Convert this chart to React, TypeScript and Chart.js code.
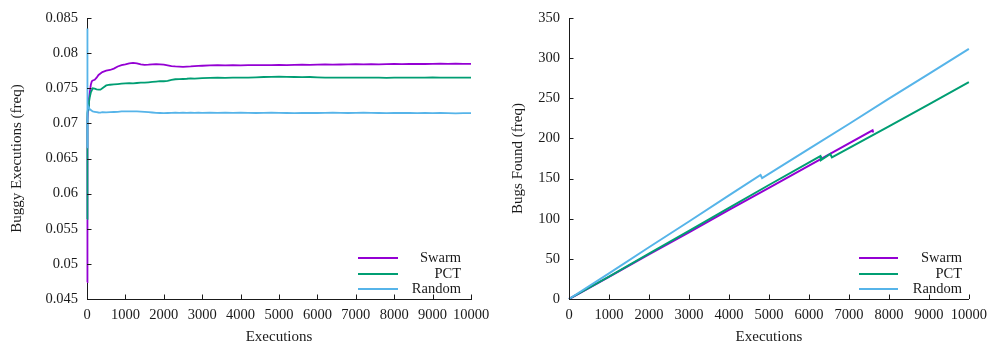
import React, { useEffect, useRef } from "react";
import { Chart, registerables } from "chart.js";

Chart.register(...registerables);

// ---------- shared ----------
const seriesNames = ["Swarm", "PCT", "Random"];
const seriesColors = ["#9400d3", "#009e73", "#56b4e9"];
const xTickValues = [0, 1000, 2000, 3000, 4000, 5000, 6000, 7000, 8000, 9000, 10000];

// ---------- left chart: Buggy Executions (freq) ----------
const execX = [
  0, 5, 10, 20, 30, 50, 75, 100, 125, 150, 200, 250, 300, 350, 400, 500, 600, 700, 800, 900,
  1000, 1100, 1200, 1300, 1400, 1500, 1600, 1700, 1800, 1900, 2000, 2100, 2200, 2300, 2400,
  2500, 2600, 2700, 2800, 2900, 3000, 3200, 3400, 3600, 3800, 4000, 4200, 4400, 4600, 4800,
  5000, 5200, 5400, 5600, 5800, 6000, 6200, 6400, 6600, 6800, 7000, 7200, 7400, 7600, 7800,
  8000, 8200, 8400, 8600, 8800, 9000, 9200, 9400, 9600, 9800, 10000,
];
const swarmFreq = [
  0.0474, 0.0566, 0.065, 0.0705, 0.0725, 0.0735, 0.0745, 0.0755, 0.076, 0.0761, 0.0762, 0.0765,
  0.0769, 0.0771, 0.0773, 0.0775, 0.0776, 0.0778, 0.0781, 0.0783, 0.0784, 0.07855, 0.07862,
  0.07855, 0.0784, 0.07832, 0.07835, 0.0784, 0.07842, 0.0784, 0.07835, 0.07825, 0.07815,
  0.0781, 0.07808, 0.07805, 0.07808, 0.0781, 0.07815, 0.07818, 0.0782,
  0.07825, 0.07828, 0.07825, 0.07828, 0.07826, 0.07828, 0.0783, 0.07828, 0.0783, 0.07832,
  0.0783, 0.07832, 0.07835, 0.07832, 0.07835, 0.07838, 0.07835, 0.07838, 0.0784, 0.07842,
  0.0784, 0.07842, 0.0784, 0.07842, 0.07845, 0.07842, 0.07845, 0.07848, 0.07845, 0.07848,
  0.0785, 0.07848, 0.0785, 0.07848, 0.07848,
];
const pctFreq = [
  0.0564, 0.0665, 0.07, 0.0715, 0.0722, 0.073, 0.0738, 0.0744, 0.0747, 0.075, 0.07495, 0.07485,
  0.0748, 0.0748, 0.075, 0.0754, 0.0755, 0.07555, 0.0756, 0.07565, 0.0757, 0.07572, 0.0757,
  0.07575, 0.0758, 0.0758, 0.07585, 0.0759, 0.07595, 0.076, 0.076, 0.07605, 0.0762, 0.07628,
  0.0763, 0.07632, 0.07635, 0.0764, 0.07638, 0.07642, 0.07645,
  0.07648, 0.0765, 0.07648, 0.0765, 0.07652, 0.0765, 0.07655, 0.0766, 0.07662, 0.07665,
  0.07662, 0.0766, 0.07658, 0.0766, 0.07655, 0.07652, 0.0765, 0.07652, 0.0765, 0.07652,
  0.0765, 0.07652, 0.0765, 0.07648, 0.0765, 0.07652, 0.0765, 0.07652, 0.0765, 0.07655,
  0.07652, 0.0765, 0.07652, 0.0765, 0.0765,
];
const randomFreq = [
  0.0666, 0.0835, 0.0752, 0.0728, 0.0724, 0.0722, 0.072, 0.0719, 0.0718, 0.0717, 0.07165,
  0.0716, 0.07155, 0.07153, 0.0716, 0.07158, 0.0716, 0.07162, 0.07165, 0.0717, 0.07172,
  0.0717, 0.07172, 0.0717, 0.07168, 0.07165, 0.0716, 0.07155, 0.0715, 0.07148, 0.07145,
  0.07148, 0.0715, 0.07152, 0.0715, 0.07152, 0.0715, 0.07152, 0.0715, 0.07152, 0.0715,
  0.07152, 0.0715, 0.07153, 0.0715, 0.07152, 0.0715, 0.07148, 0.0715, 0.07152, 0.0715,
  0.07148, 0.07145, 0.07148, 0.0715, 0.07148, 0.0715, 0.07152, 0.0715, 0.07148, 0.0715,
  0.07152, 0.0715, 0.07148, 0.07145, 0.07148, 0.0715, 0.07148, 0.07145, 0.07148, 0.07145,
  0.07148, 0.07145, 0.07143, 0.07145, 0.07145,
];

// ---------- right chart: Bugs Found (freq) ----------
const swarmFoundX = [0, 1000, 2000, 3000, 4000, 5000, 6250, 6550, 7590, 7600];
const swarmFound = [0, 27.5, 55.5, 83, 111, 138.5, 173, 181.5, 210, 207.5];
const pctFoundX = [0, 1000, 2000, 3000, 4000, 5000, 6286, 6300, 6535, 6575, 7000, 8000, 9000, 10000];
const pctFound = [0, 28, 56.5, 85, 113.5, 142, 178, 173, 180.6, 176.4, 188, 215, 242.5, 270];
const randomFoundX = [0, 1000, 2000, 3000, 4000, 4790, 4830, 6000, 7000, 8000, 9000, 10000];
const randomFound = [0, 32, 64.5, 96.5, 129, 154.5, 150.5, 187, 218, 249.5, 280.5, 311.5];

const FONT = "'Liberation Serif', 'Times New Roman', serif";
const INK = "#1a1a1a";

function pairs(xs: number[], ys: number[]) {
  return xs.map((x, i) => ({ x, y: ys[i] }));
}

type PanelSpec = {
  datasets: { label: string; data: { x: number; y: number }[]; color: string; order: number }[];
  yMin: number;
  yMax: number;
  yStep: number;
  yTitle: string;
  yAxisWidth: number;
  yTitlePad: number;
  padRight: number;
  lineWidth: number;
  legend: { lineX1: number; lineX2: number; textX: number; ys: number[] };
  fmt: (v: number) => string;
};

const tickAndLegendPlugin = {
  id: "gnuTicksLegend",
  afterDraw(chart: any) {
    const ctx = chart.ctx;
    const spec: PanelSpec = chart.options.plugins.gnuTicksLegend.spec;
    const xs = chart.scales.x;
    const ys = chart.scales.y;
    const area = chart.chartArea;
    ctx.save();
    ctx.strokeStyle = INK;
    ctx.lineWidth = 1;
    const tl = 4.5;
    ctx.beginPath();
    xs.ticks.forEach((t: any) => {
      const px = Math.round(xs.getPixelForValue(t.value)) + 0.5;
      ctx.moveTo(px, area.bottom);
      ctx.lineTo(px, area.bottom - tl);
    });
    ys.ticks.forEach((t: any) => {
      const py = Math.round(ys.getPixelForValue(t.value)) + 0.5;
      ctx.moveTo(area.left, py);
      ctx.lineTo(area.left + tl, py);
    });
    ctx.stroke();

    // legend (gnuplot style: sample line then right-aligned label)
    const lg = spec.legend;
    ctx.font = `14.5px ${FONT}`;
    ctx.textAlign = "right";
    ctx.textBaseline = "middle";
    seriesNames.forEach((name, i) => {
      const y = lg.ys[i];
      ctx.strokeStyle = seriesColors[i];
      ctx.lineWidth = 1.8;
      ctx.beginPath();
      ctx.moveTo(lg.lineX1, y);
      ctx.lineTo(lg.lineX2, y);
      ctx.stroke();
      ctx.fillStyle = INK;
      ctx.fillText(name, lg.textX, y + 0.5);
    });
    ctx.restore();
  },
};

function buildConfig(spec: PanelSpec): any {
  return {
    type: "line",
    data: {
      datasets: spec.datasets.map((d) => ({
        label: d.label,
        data: d.data,
        borderColor: d.color,
        backgroundColor: d.color,
        borderWidth: spec.lineWidth,
        pointRadius: 0,
        tension: 0,
        fill: false,
        clip: false,
        order: d.order,
      })),
    },
    options: {
      animation: false,
      responsive: false,
      maintainAspectRatio: false,
      devicePixelRatio: 1,
      layout: { padding: { top: 18, right: spec.padRight, bottom: 0, left: 0 } },
      plugins: {
        legend: { display: false },
        tooltip: { enabled: false },
        gnuTicksLegend: { spec },
      },
      scales: {
        x: {
          type: "linear",
          min: 0,
          max: 10000,
          afterFit: (s: any) => {
            s.height = 48;
          },
          afterBuildTicks: (s: any) => {
            s.ticks = xTickValues.map((v) => ({ value: v }));
          },
          grid: { display: false, drawTicks: false },
          border: { display: true, color: INK, width: 1 },
          ticks: {
            autoSkip: false,
            maxRotation: 0,
            padding: 7,
            color: INK,
            font: { family: FONT, size: 14.5 },
            callback: (v: any) => String(v),
          },
          title: {
            display: true,
            text: "Executions",
            color: INK,
            font: { family: FONT, size: 15 },
            padding: { top: 0, bottom: 1 },
          },
        },
        y: {
          type: "linear",
          min: spec.yMin,
          max: spec.yMax,
          afterFit: (s: any) => {
            s.width = spec.yAxisWidth;
          },
          grid: { display: false, drawTicks: false },
          border: { display: true, color: INK, width: 1 },
          ticks: {
            stepSize: spec.yStep,
            padding: 9,
            color: INK,
            font: { family: FONT, size: 14.5 },
            callback: (v: any) => spec.fmt(Number(v)),
          },
          title: {
            display: true,
            text: spec.yTitle,
            color: INK,
            font: { family: FONT, size: 15 },
            padding: { top: spec.yTitlePad, bottom: 0 },
          },
        },
      },
    },
    plugins: [tickAndLegendPlugin],
  };
}

const leftSpec: PanelSpec = {
  datasets: [
    { label: seriesNames[0], data: pairs(execX, swarmFreq), color: seriesColors[0], order: 3 },
    { label: seriesNames[1], data: pairs(execX, pctFreq), color: seriesColors[1], order: 2 },
    { label: seriesNames[2], data: pairs(execX, randomFreq), color: seriesColors[2], order: 1 },
  ],
  yMin: 0.045,
  yMax: 0.085,
  yStep: 0.005,
  yTitle: "Buggy Executions (freq)",
  yAxisWidth: 87,
  yTitlePad: 8,
  padRight: 26,
  lineWidth: 1.8,
  legend: { lineX1: 358, lineX2: 398, textX: 461, ys: [258, 274, 289] },
  fmt: (v) => String(Number(v.toFixed(3))),
};

const rightSpec: PanelSpec = {
  datasets: [
    { label: seriesNames[0], data: pairs(swarmFoundX, swarmFound), color: seriesColors[0], order: 3 },
    { label: seriesNames[1], data: pairs(pctFoundX, pctFound), color: seriesColors[1], order: 2 },
    { label: seriesNames[2], data: pairs(randomFoundX, randomFound), color: seriesColors[2], order: 1 },
  ],
  yMin: 0,
  yMax: 350,
  yStep: 50,
  yTitle: "Bugs Found (freq)",
  yAxisWidth: 72,
  yTitlePad: 12,
  padRight: 23,
  lineWidth: 2,
  legend: { lineX1: 362, lineX2: 401, textX: 465, ys: [258, 274, 289] },
  fmt: (v) => String(Math.round(v)),
};

function Panel({ spec, left }: { spec: PanelSpec; left: number }) {
  const ref = useRef<HTMLCanvasElement | null>(null);
  useEffect(() => {
    if (!ref.current) return;
    const chart = new Chart(ref.current, buildConfig(spec));
    return () => chart.destroy();
  }, [spec]);
  return (
    <canvas
      ref={ref}
      width={497}
      height={347}
      style={{ position: "absolute", left, top: 0, width: 497, height: 347 }}
    />
  );
}

export default function App() {
  return (
    <div
      style={{
        position: "absolute",
        left: 0,
        top: 0,
        width: 994,
        height: 347,
        background: "#ffffff",
        overflow: "hidden",
      }}
    >
      <Panel spec={leftSpec} left={0} />
      <Panel spec={rightSpec} left={497} />
    </div>
  );
}
